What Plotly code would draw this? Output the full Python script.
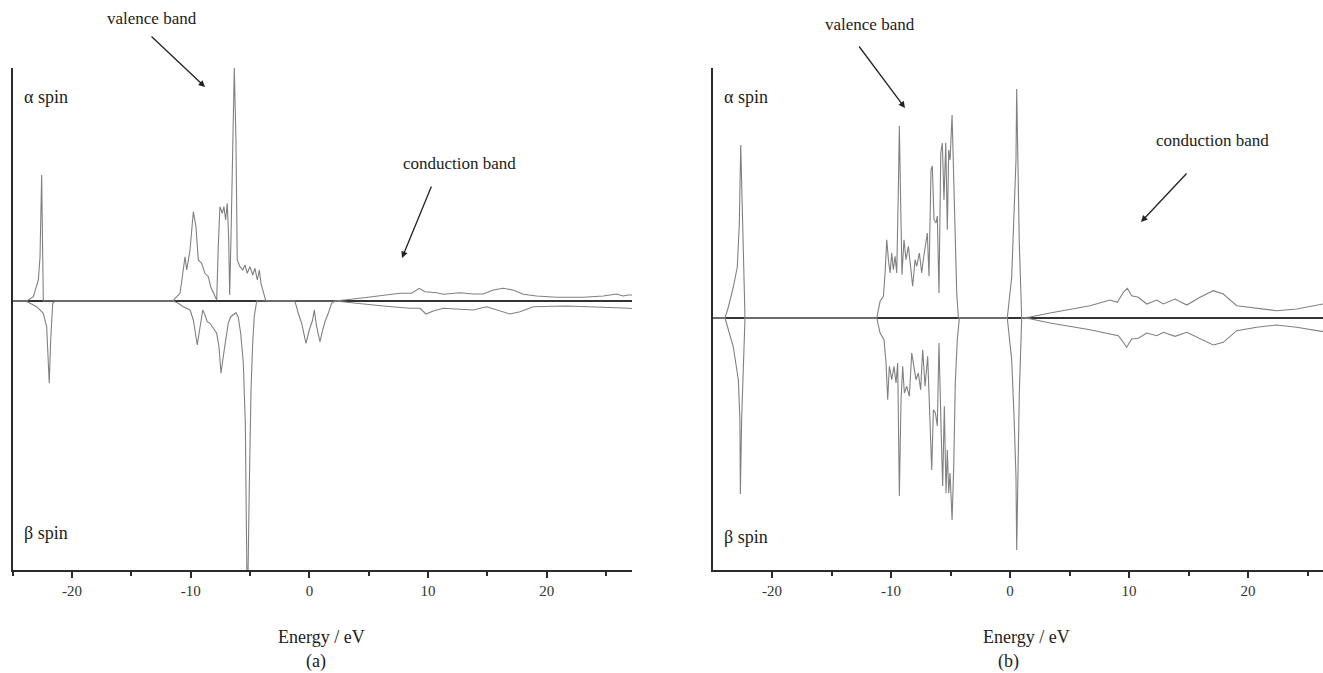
import plotly.graph_objects as go

# ---------------- data (energy in eV, DOS in arbitrary units) ----------------
# Panel (a)
Ea_alpha = [-25.0, -23.83, -23.26, -22.84, -22.70, -22.56, -22.47, -22.42,
            -11.5, -11.32, -10.90, -10.68, -10.48, -10.34, -10.06, -9.78, -9.56, -9.36,
            -9.08, -8.80, -8.52, -8.32, -8.10, -7.81, -7.68, -7.54, -7.34, -7.20, -7.06,
            -6.92, -6.80, -6.72, -6.61, -6.47, -6.33, -6.19, -6.08, -5.85, -5.62, -5.43,
            -5.24, -5.01, -4.78, -4.59, -4.39, -4.22, -4.08, -3.89, -3.69, -3.5,
            2.15, 4.26, 6.22, 7.63, 8.61, 9.26, 9.73, 10.72, 11.28, 12.68, 13.80, 14.65,
            15.49, 16.33, 17.17, 18.02, 19.14, 20.83, 23.07, 24.76, 25.87, 26.44, 26.86, 27.2]
Da_alpha = [0, 0, 0.43, 2.1, 4.4, 12.6, 4.4, 0,
            0, 0.27, 0.77, 2.77, 4.43, 3.1, 5.1, 8.93, 7.43, 4.1,
            3.77, 2.77, 2.43, 1.43, 0.77, 0.1, 5.43, 9.43, 8.77, 9.43, 8.1,
            9.77, 6.1, 0.6, 6.1, 16.1, 23.3, 16.1, 4.1, 3.43, 3.1, 3.6,
            2.77, 3.43, 2.6, 3.27, 2.1, 3.1, 1.77, 0.93, 0.1, 0,
            0, 0.27, 0.6, 0.77, 0.77, 1.27, 0.93, 0.83, 0.67, 0.83, 0.7, 0.7,
            1.1, 1.27, 1.1, 0.67, 0.5, 0.37, 0.37, 0.5, 0.7, 0.5, 0.6, 0.6]

Ea_beta = [-25.0, -23.9, -22.98, -22.42, -22.14, -22.0, -21.92, -21.80, -21.63, -21.4,
           -11.47, -11.05, -10.63, -10.06, -9.78, -9.45, -9.22, -8.99, -8.80, -8.61,
           -8.38, -8.10, -7.81, -7.62, -7.45, -7.26, -7.03, -6.84, -6.63, -6.41, -6.19,
           -6.0, -5.79, -5.57, -5.40, -5.26, -5.18, -5.07, -4.92, -4.78, -4.65, -4.44,
           -1.22, -0.94, -0.65, -0.29, -0.01, 0.27, 0.41, 0.61, 0.89, 1.12, 1.31, 1.59,
           1.87, 2.15, 4.26, 6.22, 8.47, 9.32, 9.82, 10.44, 11.28, 12.68, 13.80, 14.93,
           15.77, 16.90, 17.74, 18.86, 21.67, 24.76, 25.87, 26.86, 27.2]
Da_beta = [0, 0, -0.57, -1.23, -2.57, -5.57, -8.23, -3.9, -0.23, 0,
           0, -0.23, -0.57, -0.9, -1.9, -4.4, -2.57, -0.9, -1.4, -2.07,
           -2.23, -2.73, -3.23, -4.57, -7.23, -5.57, -3.57, -2.23, -1.57, -1.4, -1.17,
           -1.6, -3.23, -6.23, -12.2, -28.0, -28.0, -18.9, -8.9, -4.23, -1.57, 0,
           0, -1.23, -2.23, -4.23, -2.9, -1.9, -0.9, -2.57, -4.07, -2.9, -2.07, -1.23,
           -0.23, 0, -0.27, -0.5, -0.73, -0.73, -1.3, -1.0, -0.73, -0.83, -0.9, -0.57,
           -0.9, -1.3, -1.07, -0.57, -0.5, -0.57, -0.67, -0.73, -0.75]

# Panel (b)
Eb_alpha = [-25.0, -23.95, -23.67, -23.25, -22.92, -22.75, -22.63, -22.50, -22.35, -22.27,
            -11.2, -10.92, -10.64, -10.50, -10.36, -10.22, -10.08, -9.94, -9.81, -9.66,
            -9.52, -9.39, -9.30, -9.18, -9.08, -8.91, -8.74, -8.54, -8.35, -8.18, -7.98,
            -7.84, -7.62, -7.42, -7.29, -7.14, -6.95, -6.81, -6.64, -6.53, -6.39, -6.22,
            -6.11, -5.97, -5.82, -5.69, -5.55, -5.40, -5.27, -5.15, -5.04, -4.87, -4.76,
            -4.62, -4.48, -4.34,
            -0.23, 0.14, 0.34, 0.50, 0.56, 0.65, 0.78, 0.98,
            1.68, 3.36, 5.04, 6.72, 8.40, 9.02, 9.52, 9.86, 10.22, 10.78, 11.49, 12.33,
            12.88, 13.87, 14.85, 15.97, 17.08, 17.92, 19.05, 20.73, 22.41, 24.09, 26.28, 26.5]
Db_alpha = [0, 0, 1.1, 3.1, 5.1, 9.4, 17.3, 9.4, 3.8, 0,
            0, 1.67, 2.17, 4.5, 7.83, 5.83, 4.5, 6.5, 4.83, 6.17,
            4.5, 12.5, 19.2, 10.8, 4.33, 7.83, 5.83, 7.17, 5.17, 3.17, 5.83,
            5.17, 6.5, 4.5, 5.83, 7.17, 8.5, 4.17, 14.8, 15.2, 9.83, 9.5,
            10.2, 2.5, 16.5, 17.5, 11.8, 17.5, 8.83, 16.8, 15.8, 20.3, 15.8,
            7.5, 2.5, 0,
            0, 4.1, 9.8, 15.8, 22.9, 15.8, 7.4, 0,
            0.1, 0.5, 0.83, 1.23, 1.8, 1.57, 2.57, 2.97, 2.23, 2.07, 1.4, 1.8,
            1.4, 1.9, 1.3, 2.07, 2.73, 2.4, 1.23, 0.97, 0.73, 0.9, 1.4, 1.45]

Eb_beta = [-25.0, -23.95, -23.25, -22.83, -22.70, -22.66, -22.55, -22.27,
           -11.2, -10.92, -10.59, -10.42, -10.28, -10.14, -9.94, -9.75, -9.58, -9.44,
           -9.30, -9.16, -9.02, -8.88, -8.68, -8.46, -8.26, -8.07, -7.90, -7.71, -7.51,
           -7.34, -7.14, -6.92, -6.78, -6.58, -6.44, -6.27, -6.11, -5.97, -5.80, -5.66,
           -5.52, -5.38, -5.27, -5.15, -5.04, -4.87, -4.73, -4.60, -4.43, -4.26,
           -0.23, 0.14, 0.34, 0.50, 0.56, 0.65, 0.78, 0.98,
           1.68, 3.36, 5.04, 6.72, 8.40, 9.10, 9.52, 9.80, 10.22, 10.78, 11.49, 12.33,
           12.88, 13.87, 14.85, 15.97, 17.08, 17.92, 19.05, 20.73, 22.41, 24.09, 26.28, 26.5]
Db_beta = [0, 0, -2.9, -6.2, -10.2, -17.6, -10.0, 0,
           0, -1.5, -2.17, -4.5, -8.17, -4.83, -6.17, -4.83, -6.5, -4.5,
           -17.8, -8.17, -4.83, -7.5, -6.83, -7.83, -3.5, -4.83, -6.17, -5.5, -7.17,
           -3.17, -6.83, -3.83, -8.83, -15.2, -9.17, -9.5, -10.8, -2.5, -10.8, -16.8,
           -8.83, -17.5, -13.2, -17.5, -15.5, -20.2, -14.8, -6.5, -2.17, 0,
           0, -4.2, -9.9, -15.9, -23.2, -15.9, -7.6, 0,
           -0.07, -0.5, -0.83, -1.17, -1.6, -1.77, -2.43, -2.93, -2.1, -2.03, -1.5, -1.77,
           -1.43, -1.83, -1.43, -2.1, -2.7, -2.43, -1.27, -0.93, -0.7, -0.93, -1.37, -1.4]

major_ticks = [-20, -10, 0, 10, 20]
major_labels = ["-20", "-10", "0", "10", "20"]
minor_ticks = [-25, -15, -5, 5, 15, 25]

# ---------------- figure ----------------
W, H = 1323, 673
FONT = "Liberation Serif"
LINE = "#808080"


def px(x):
    return x / W


def py(y):
    return 1 - y / H


fig = go.Figure()
for E, D, xa, ya in [(Ea_alpha, Da_alpha, "x", "y"), (Ea_beta, Da_beta, "x", "y"),
                     (Eb_alpha, Db_alpha, "x2", "y2"), (Eb_beta, Db_beta, "x2", "y2")]:
    fig.add_trace(go.Scatter(x=E, y=D, mode="lines", xaxis=xa, yaxis=ya,
                             line=dict(color=LINE, width=1.1), showlegend=False,
                             hoverinfo="skip"))

ydom = [py(570), py(68)]
xcommon = dict(showgrid=False, zeroline=False, showline=True, linecolor="#2a2a2a",
               linewidth=2, ticks="outside", ticklen=6, tickwidth=1.5, tickcolor="#2a2a2a",
               tickvals=major_ticks, ticktext=major_labels,
               tickfont=dict(family=FONT, size=15, color="#333"),
               minor=dict(tickvals=minor_ticks, ticks="outside", ticklen=4,
                          tickwidth=1.5, tickcolor="#2a2a2a"))
ycommon = dict(showgrid=False, showline=True, linecolor="#2a2a2a", linewidth=2,
               showticklabels=False, ticks="", zeroline=True, zerolinecolor="#333",
               zerolinewidth=2, domain=ydom)

fig.update_layout(
    width=W, height=H, margin=dict(l=0, r=0, t=0, b=0),
    paper_bgcolor="white", plot_bgcolor="white",
    font=dict(family=FONT),
    xaxis=dict(domain=[px(12.7), px(632)], range=[-25.0, 27.18], anchor="y", **xcommon),
    yaxis=dict(range=[-26.9, 23.3], anchor="x", **ycommon),
    xaxis2=dict(domain=[px(713), 1.0], range=[-24.96, 26.30], anchor="y2", **xcommon),
    yaxis2=dict(range=[-25.2, 25.0], anchor="x2", **ycommon),
)

anns = []


def text(x, y, s, size=17, xanchor="center"):
    anns.append(dict(x=px(x), y=py(y), xref="paper", yref="paper", text=s,
                     showarrow=False, xanchor=xanchor, yanchor="middle",
                     font=dict(family=FONT, size=size, color="#222")))


def arrow(tail, tip):
    anns.append(dict(x=px(tip[0]), y=py(tip[1]), xref="paper", yref="paper", text="",
                     showarrow=True, ax=tail[0] - tip[0], ay=tail[1] - tip[1],
                     arrowhead=2, arrowsize=1, arrowwidth=1.3, arrowcolor="#222",
                     standoff=0, startstandoff=0))


# panel (a)
text(22, 97, "α spin", 18, "left")
text(22, 533, "β spin", 18, "left")
text(152, 18, "valence band", 17)
arrow((150, 35), (205, 87))
text(460, 163, "conduction band", 17)
arrow((432, 185), (402, 258))
text(321, 637, "Energy / eV", 18)
text(316, 661, "(a)", 18)

# panel (b)
text(722, 97, "α spin", 18, "left")
text(722, 537, "β spin", 18, "left")
text(870, 25, "valence band", 17)
arrow((858, 45), (905, 108))
text(1212, 140, "conduction band", 17)
arrow((1188, 172), (1141, 222))
text(1026, 637, "Energy / eV", 18)
text(1008, 661, "(b)", 18)

fig.update_layout(annotations=anns)
fig.write_html("out.html")
